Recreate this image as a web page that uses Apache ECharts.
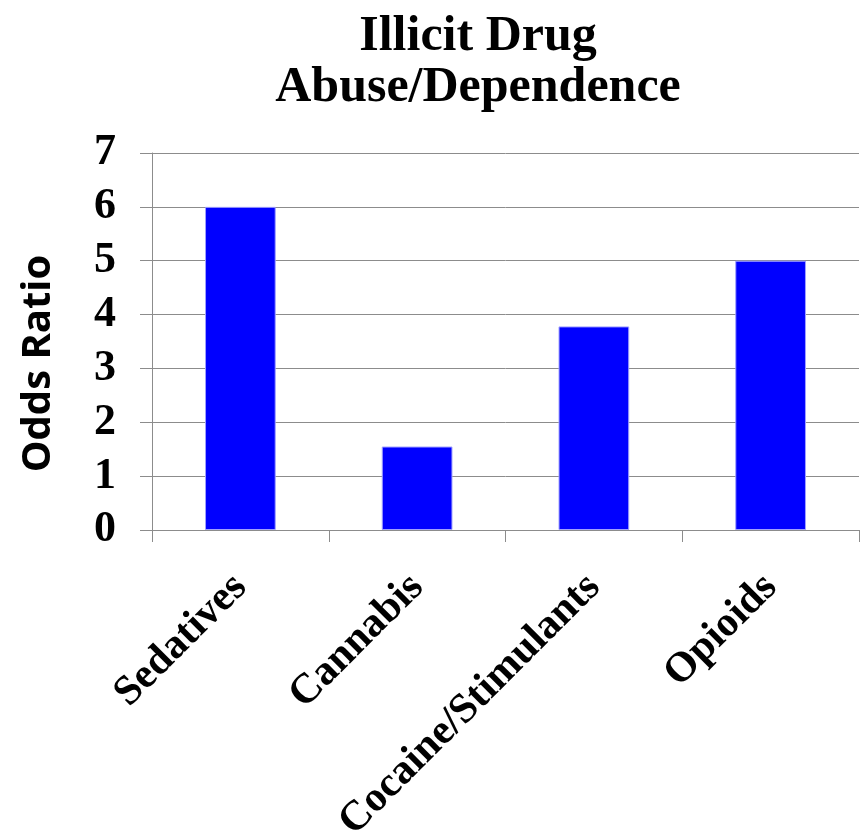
<!DOCTYPE html>
<html>
<head>
<meta charset="utf-8">
<script src="https://cdn.jsdelivr.net/npm/echarts@6/dist/echarts.min.js"></script>
<style>
  html, body { margin: 0; padding: 0; background: #ffffff; }
  #chart { width: 860px; height: 835px; }
</style>
</head>
<body>
<div id="chart"></div>
<script>
// Odds ratios of illicit drug abuse/dependence by drug class
const categories = ['Sedatives', 'Cannabis', 'Cocaine/Stimulants', 'Opioids'];
const oddsRatios = [6.0, 1.55, 3.78, 5.0];
const yTicks = [0, 1, 2, 3, 4, 5, 6, 7];

const serif = '"Liberation Serif", "Times New Roman", serif';
const gridGray = '#8c8c8c';

const chart = echarts.init(document.getElementById('chart'), null, { renderer: 'canvas' });

chart.setOption({
  backgroundColor: '#ffffff',
  animation: false,
  title: {
    text: 'Illicit Drug\nAbuse/Dependence',
    left: 473,
    top: 7,
    textAlign: 'center',
    textStyle: {
      fontFamily: serif,
      fontWeight: 'bold',
      fontSize: 50,
      lineHeight: 51,
      color: '#000000'
    }
  },
  grid: {
    left: 152,
    right: 1,
    top: 153,
    bottom: 305,
    outerBoundsMode: 'none'
  },
  xAxis: {
    type: 'category',
    data: categories,
    axisLine: { show: true, lineStyle: { color: gridGray, width: 1 } },
    axisTick: { show: true, alignWithLabel: false, length: 12, lineStyle: { color: gridGray } },
    axisLabel: {
      rotate: 45,
      margin: 51,
      interval: 0,
      fontFamily: serif,
      fontWeight: 'bold',
      fontSize: 42,
      color: '#000000'
    },
    splitLine: { show: false }
  },
  yAxis: {
    type: 'value',
    min: yTicks[0],
    max: yTicks[yTicks.length - 1],
    interval: 1,
    name: 'Odds Ratio',
    nameLocation: 'middle',
    nameRotate: 90,
    nameGap: 93,
    nameTextStyle: {
      fontFamily: '"Open Sans", sans-serif',
      fontWeight: 'bold',
      fontSize: 40,
      color: '#000000',
      padding: [0, 44, 0, 0]
    },
    axisLine: { show: true, lineStyle: { color: gridGray, width: 1 } },
    axisTick: { show: true, length: 12, lineStyle: { color: gridGray } },
    axisLabel: {
      margin: 36,
      fontFamily: serif,
      fontWeight: 'bold',
      fontSize: 44,
      color: '#000000'
    },
    splitLine: { show: true, lineStyle: { color: gridGray, width: 1 } }
  },
  series: [{
    type: 'bar',
    data: oddsRatios,
    barWidth: '40%',
    itemStyle: {
      color: '#0000ff',
      borderColor: '#a0a0ff',
      borderWidth: 1
    }
  }]
});
</script>
</body>
</html>
